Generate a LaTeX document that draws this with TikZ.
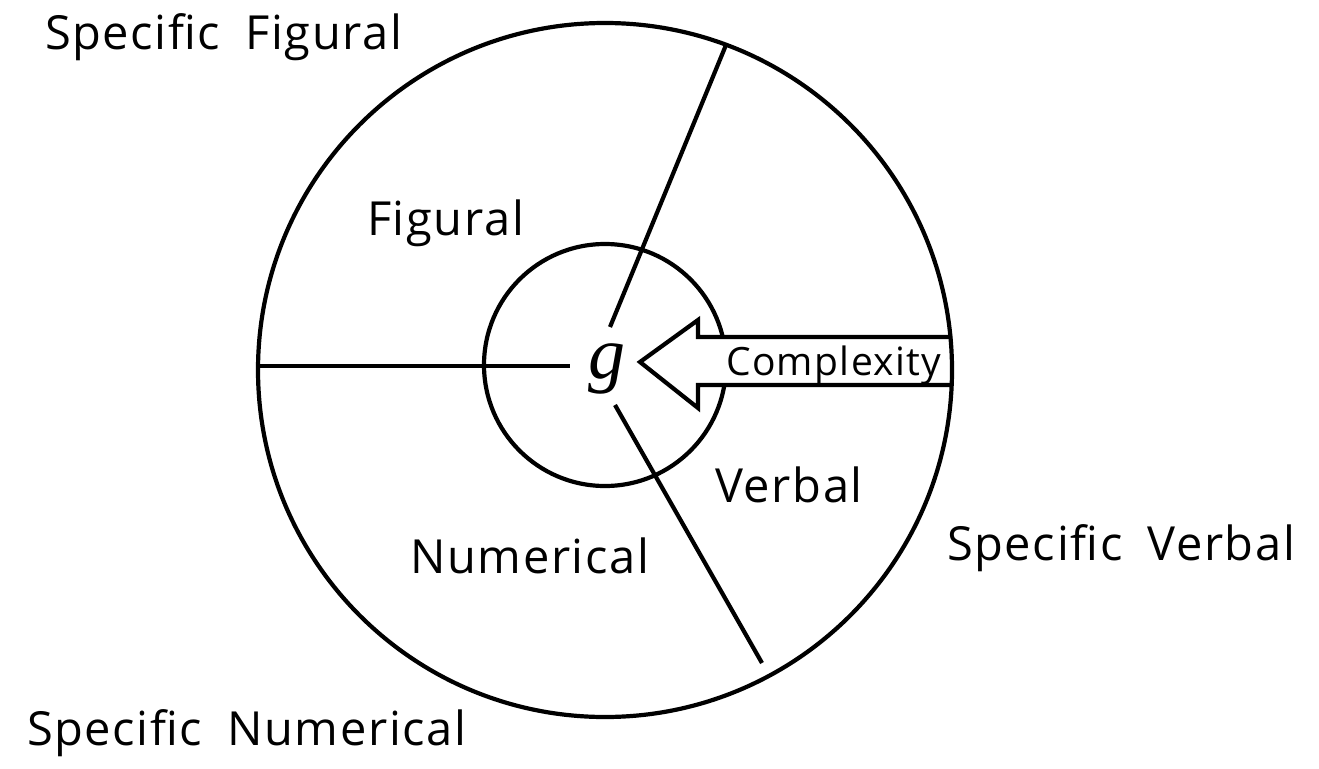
\documentclass[tikz,border=0pt]{standalone}
\usepackage{fontspec}
\setmainfont{Open Sans}[LetterSpace=3.5,WordSpace=1.8]
\newfontfamily\gfont{Liberation Serif}
\begin{document}
\begin{tikzpicture}[x=1pt,y=-1pt,line width=4.2pt,
  lbl/.style={anchor=base west,inner sep=0pt,font=\fontsize{47}{50}\selectfont}]
\useasboundingbox (0,0) rectangle (1319,768);
\coordinate (oc) at (605,370);
\coordinate (ic) at (605,365);
% sector lines
\draw (726,45) -- (610,327);
\draw (258,366) -- (570,366);
\draw (615,405) -- (762,663);
% inner circle
\draw (ic) circle[radius=121];
% arrow
\fill[white] (952,337) -- (698,337) -- (698,320) -- (640,362) -- (698,408) -- (698,385) -- (952,385) -- cycle;
\draw[line join=miter] (952,337) -- (698,337) -- (698,320) -- (640,362) -- (698,408) -- (698,385) -- (952,385);
% outer circle
\draw (oc) circle[radius=347];
% labels
\node[lbl] (sf) at (43,50) {Specific Figural};
\node[lbl] (fg) at (365,235) {Figural};
\node[lbl] (vb) at (713,502) {Verbal};
\node[lbl] (nm) at (408,573) {Numerical};
\node[lbl] (sv) at (945,560) {Specific Verbal};
\node[lbl] (sn) at (25,745) {Specific Numerical};
\node[anchor=base west,inner sep=0pt,font=\fontsize{39}{40}\selectfont] (cx) at (724,375) {Complexity};
\node[anchor=base,inner sep=0pt,font=\gfont\itshape\fontsize{74}{76}\selectfont] (g) at (607,378) {g};
\end{tikzpicture}
\end{document}
